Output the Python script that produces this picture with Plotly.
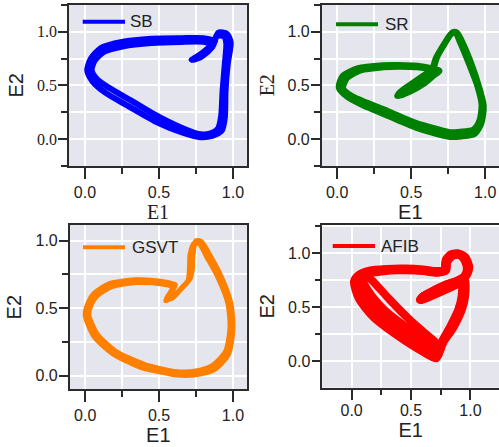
import plotly.graph_objects as go

# ---------------- data ----------------
SB_CYCLE_1 = [(0.72,0.74),(0.79,0.78),(0.865,0.87),(0.90,0.99),(0.96,0.98),(0.985,0.90),(0.965,0.70),
              (0.95,0.45),(0.945,0.20),(0.925,0.08),(0.86,0.03),(0.77,0.02),(0.67,0.055),(0.49,0.155),
              (0.29,0.31),(0.14,0.43),(0.05,0.54),(0.015,0.64),(0.04,0.75),(0.11,0.85),(0.25,0.905),
              (0.45,0.935),(0.65,0.94),(0.80,0.94),(0.88,0.91),(0.82,0.83),(0.76,0.77),(0.72,0.74)]
SB_CYCLE_2 = [(0.73,0.735),(0.79,0.77),(0.855,0.85),(0.89,0.96),(0.94,0.955),(0.955,0.89),(0.945,0.70),
              (0.93,0.45),(0.92,0.21),(0.90,0.10),(0.85,0.055),(0.78,0.045),(0.69,0.085),(0.51,0.20),
              (0.31,0.36),(0.16,0.48),(0.08,0.56),(0.045,0.64),(0.065,0.73),(0.13,0.815),(0.26,0.865),
              (0.45,0.895),(0.65,0.905),(0.80,0.905),(0.86,0.88),(0.81,0.82),(0.76,0.765),(0.73,0.735)]

SR_CYCLE_1 = [(0.04,0.47),(0.065,0.565),(0.16,0.64),(0.31,0.668),(0.42,0.674),(0.54,0.668),(0.63,0.65),
              (0.69,0.63),(0.66,0.60),(0.58,0.51),(0.49,0.44),(0.415,0.40),(0.43,0.43),(0.50,0.50),
              (0.58,0.575),(0.64,0.645),(0.665,0.75),(0.715,0.87),(0.77,0.98),(0.80,0.985),(0.83,0.90),
              (0.89,0.70),(0.945,0.50),(0.975,0.32),(0.96,0.17),(0.92,0.09),(0.83,0.07),(0.76,0.065),
              (0.66,0.10),(0.536,0.15),(0.42,0.215),(0.31,0.28),(0.20,0.34),(0.10,0.40),(0.04,0.47)]
SR_CYCLE_2 = [(0.01,0.48),(0.035,0.585),(0.14,0.66),(0.31,0.688),(0.42,0.69),(0.54,0.682),(0.63,0.662),
              (0.69,0.638),(0.655,0.61),(0.575,0.52),(0.48,0.445),(0.405,0.40),(0.425,0.44),(0.495,0.51),
              (0.575,0.585),(0.65,0.665),(0.675,0.765),(0.725,0.885),(0.78,0.995),(0.81,0.99),(0.85,0.89),
              (0.91,0.69),(0.96,0.48),(0.99,0.31),(0.975,0.15),(0.93,0.05),(0.84,0.025),(0.76,0.02),
              (0.64,0.06),(0.536,0.105),(0.42,0.17),(0.31,0.235),(0.18,0.31),(0.07,0.39),(0.01,0.48)]

GSVT_CYCLE_1 = [(0.00,0.45),(0.02,0.54),(0.06,0.61),(0.16,0.68),(0.34,0.71),(0.51,0.70),(0.61,0.675),
                (0.59,0.63),(0.545,0.555),(0.60,0.59),(0.665,0.665),(0.71,0.72),(0.725,0.79),(0.73,0.90),
                (0.75,1.00),(0.785,0.995),(0.84,0.90),(0.92,0.735),(0.985,0.54),(1.00,0.35),(0.97,0.16),
                (0.88,0.05),(0.76,0.01),(0.62,0.005),(0.50,0.03),(0.38,0.06),(0.19,0.16),(0.06,0.29),(0.00,0.45)]
GSVT_CYCLE_2 = [(0.025,0.45),(0.04,0.525),(0.08,0.59),(0.18,0.66),(0.35,0.69),(0.51,0.68),(0.59,0.655),
                (0.575,0.615),(0.55,0.57),(0.59,0.575),(0.655,0.65),(0.695,0.70),(0.705,0.78),(0.71,0.90),
                (0.74,0.985),(0.775,0.975),(0.82,0.885),(0.90,0.725),(0.965,0.54),(0.98,0.36),(0.95,0.18),
                (0.86,0.075),(0.75,0.035),(0.62,0.03),(0.50,0.055),(0.40,0.085),(0.21,0.18),(0.08,0.31),(0.025,0.45)]

AFIB_CYCLE_1 = [(0.02,0.74),(0.06,0.80),(0.15,0.84),(0.30,0.855),(0.45,0.858),(0.60,0.85),(0.72,0.835),
                (0.78,0.85),(0.79,0.935),(0.835,0.99),(0.90,1.0),(0.96,0.96),(0.99,0.87),(0.965,0.79),
                (0.91,0.755),(0.80,0.71),(0.68,0.65),(0.61,0.605),(0.59,0.58),(0.63,0.605),(0.75,0.67),
                (0.86,0.72),(0.95,0.76),(0.955,0.60),(0.925,0.47),(0.85,0.30),(0.775,0.18),(0.73,0.06),
                (0.71,0.025),(0.60,0.085),(0.40,0.225),(0.19,0.40),(0.06,0.58),(0.02,0.74)]
AFIB_CYCLE_2 = [(0.05,0.76),(0.09,0.81),(0.17,0.835),(0.31,0.85),(0.45,0.852),(0.60,0.845),(0.72,0.83),
                (0.785,0.848),(0.795,0.93),(0.84,0.985),(0.90,0.995),(0.955,0.955),(0.983,0.868),(0.96,0.79),
                (0.905,0.752),(0.79,0.70),(0.67,0.64),(0.60,0.60),(0.585,0.575),(0.635,0.60),(0.76,0.665),
                (0.865,0.715),(0.945,0.75),(0.945,0.60),(0.915,0.47),(0.84,0.30),(0.77,0.18),(0.735,0.09),
                (0.73,0.055),(0.64,0.12),(0.44,0.26),(0.23,0.44),(0.10,0.62),(0.05,0.76)]
AFIB_CYCLE_3 = [(0.09,0.77),(0.12,0.815),(0.19,0.83),(0.31,0.845),(0.45,0.847),(0.60,0.84),(0.72,0.825),
                (0.79,0.845),(0.80,0.925),(0.845,0.98),(0.90,0.99),(0.95,0.95),(0.976,0.865),(0.955,0.79),
                (0.90,0.75),(0.78,0.695),(0.66,0.635),(0.595,0.595),(0.58,0.57),(0.64,0.595),(0.77,0.66),
                (0.87,0.71),(0.935,0.74),(0.935,0.60),(0.905,0.47),(0.83,0.30),(0.765,0.18),(0.74,0.09),
                (0.68,0.16),(0.48,0.30),(0.27,0.48),(0.14,0.65),(0.09,0.77)]
AFIB_CYCLE_4 = [(0.13,0.79),(0.16,0.815),(0.22,0.825),(0.32,0.84),(0.45,0.842),(0.60,0.835),(0.72,0.82),
                (0.795,0.842),(0.805,0.92),(0.85,0.975),(0.90,0.985),(0.945,0.945),(0.97,0.862),(0.95,0.79),
                (0.895,0.748),(0.77,0.70),(0.65,0.63),(0.59,0.59),(0.575,0.565),(0.645,0.59),(0.78,0.655),
                (0.875,0.705),(0.925,0.73),(0.925,0.60),(0.895,0.47),(0.82,0.30),(0.76,0.18),(0.745,0.13),
                (0.69,0.19),(0.51,0.36),(0.32,0.57),(0.18,0.74),(0.13,0.79)]

SERIES_NAMES = ["SB", "SR", "GSVT", "AFIB"]
SERIES_CYCLES = [[SB_CYCLE_1, SB_CYCLE_2],
                 [SR_CYCLE_1, SR_CYCLE_2],
                 [GSVT_CYCLE_1, GSVT_CYCLE_2],
                 [AFIB_CYCLE_1, AFIB_CYCLE_2, AFIB_CYCLE_3, AFIB_CYCLE_4]]
SERIES_COLORS = ["#0000ff", "#008000", "#ff8000", "#ff0000"]
TICK_VALUES = [0.0, 0.5, 1.0]
TICK_LABELS = ["0.0", "0.5", "1.0"]
X_TITLE = "E1"
Y_TITLE = "E2"

# ---------------- figure ----------------
W, H = 499, 447
SANS = "Liberation Sans, Arial, sans-serif"
SERIF = "Liberation Serif, Times New Roman, serif"
AX = "#2b2b2b"
BG = "#e5e5ee"

panels = [
    dict(xd=(69, 247), yd=(4.5, 166), xr=(-0.108, 1.095), yr=(-0.25, 1.253), lw=6,
         xtick=SANS, ytick=SERIF, xtitle=SERIF, ytitle=SANS, mirror_y=True, xls=0, xst=0),
    dict(xd=(321.7, 499), yd=(4.5, 166), xr=(-0.105, 1.093), yr=(-0.25, 1.253), lw=6,
         xtick=SANS, ytick=SANS, xtitle=SANS, ytitle=SERIF, mirror_y=False, xls=0, xst=0),
    dict(xd=(69.7, 247), yd=(225, 389.3), xr=(-0.105, 1.095), yr=(-0.10, 1.116), lw=5,
         xtick=SANS, ytick=SANS, xtitle=SANS, ytitle=SANS, mirror_y=True, xls=0, xst=0),
    dict(xd=(322.3, 499), yd=(225, 387.7), xr=(-0.247, 1.24), yr=(-0.248, 1.263), lw=8,
         xtick=SANS, ytick=SANS, xtitle=SANS, ytitle=SANS, mirror_y=False, xls=-4, xst=1),
]
legend_pos = [(82.7, 125, 21.7, 128), (336, 378, 24.3, 382.5), (83, 125, 247.3, 129.5), (332.7, 375, 246, 378.5)]

fig = go.Figure()
layout = dict(width=W, height=H, margin=dict(l=0, r=0, t=0, b=0),
              paper_bgcolor="white", plot_bgcolor=BG, showlegend=False)
shapes, annotations = [], []

for i, (name, cycles, color, p) in enumerate(zip(SERIES_NAMES, SERIES_CYCLES, SERIES_COLORS, panels)):
    e1, e2 = [], []
    for cyc in cycles:
        e1 += [pt[0] for pt in cyc] + [None]
        e2 += [pt[1] for pt in cyc] + [None]
    sfx = "" if i == 0 else str(i + 1)
    fig.add_trace(go.Scatter(x=e1, y=e2, mode="lines", name=name,
                             line=dict(color=color, width=p["lw"], shape="spline", smoothing=0.7),
                             connectgaps=False, xaxis="x" + sfx, yaxis="y" + sfx, hoverinfo="skip"))
    common = dict(showline=True, linecolor=AX, linewidth=1.5, ticks="outside", tickcolor=AX,
                  tickwidth=1.5, showgrid=True, gridcolor="white", gridwidth=1.5, zeroline=False,
                  tickmode="array", tickvals=TICK_VALUES, ticktext=TICK_LABELS,
                  minor=dict(tickmode="linear", tick0=0, dtick=0.25, ticks="outside", ticklen=6,
                             tickcolor=AX, tickwidth=1.5, showgrid=True, gridcolor="white", gridwidth=1.5))
    xa = dict(common, domain=[p["xd"][0] / W, p["xd"][1] / W], range=list(p["xr"]),
              anchor="y" + sfx, mirror=True, ticklen=11, ticklabelstandoff=p["xls"],
              tickfont=dict(family=p["xtick"], size=16, color="#222"),
              title=dict(text=X_TITLE, font=dict(family=p["xtitle"], size=20, color="#222"),
                         standoff=p["xst"]))
    ya = dict(common, domain=[1 - p["yd"][1] / H, 1 - p["yd"][0] / H], range=list(p["yr"]),
              anchor="x" + sfx, mirror=p["mirror_y"], ticklen=9, ticklabelstandoff=-2,
              tickfont=dict(family=p["ytick"], size=16, color="#222"),
              title=dict(text=Y_TITLE, font=dict(family=p["ytitle"], size=20, color="#222"), standoff=8))
    layout["xaxis" + sfx] = xa
    layout["yaxis" + sfx] = ya
    lx0, lx1, ly, tx = legend_pos[i]
    shapes.append(dict(type="line", xref="paper", yref="paper", x0=lx0 / W, x1=lx1 / W,
                       y0=1 - ly / H, y1=1 - ly / H, line=dict(color=color, width=4), layer="above"))
    annotations.append(dict(text=name, xref="paper", yref="paper", x=tx / W, y=1 - ly / H,
                            xanchor="left", yanchor="middle", showarrow=False,
                            font=dict(family=SANS, size=17, color="#222")))

layout["shapes"] = shapes
layout["annotations"] = annotations
fig.update_layout(**layout)
fig.write_html("out.html")
